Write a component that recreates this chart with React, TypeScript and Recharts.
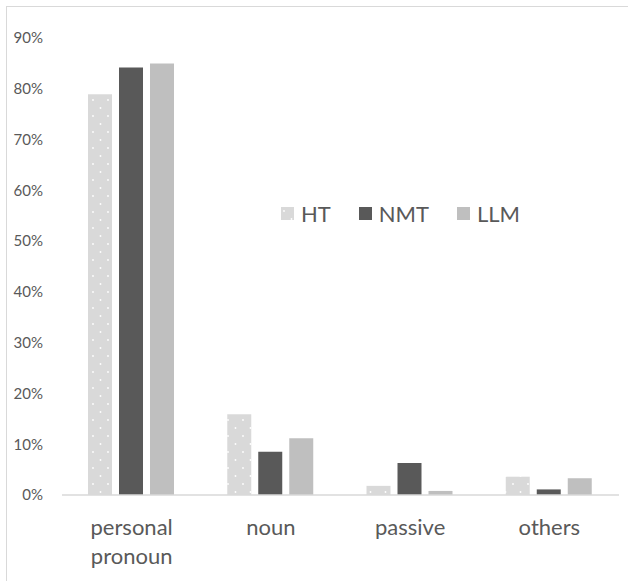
import React from 'react';
import { BarChart, Bar, XAxis, YAxis, Legend } from 'recharts';

const categories = ['personal pronoun', 'noun', 'passive', 'others'];
const htValues = [0.789, 0.159, 0.018, 0.036];
const nmtValues = [0.842, 0.085, 0.063, 0.011];
const llmValues = [0.85, 0.112, 0.008, 0.033];
const yTicks = [0, 0.1, 0.2, 0.3, 0.4, 0.5, 0.6, 0.7, 0.8, 0.9];

const series = [
  { key: 'HT', fill: 'url(#dots)', swatch: '#d9d9d9' },
  { key: 'NMT', fill: '#595959', swatch: '#595959' },
  { key: 'LLM', fill: '#bfbfbf', swatch: '#bfbfbf' },
];

const data = categories.map((name, i) => ({
  name,
  HT: htValues[i],
  NMT: nmtValues[i],
  LLM: llmValues[i],
}));

const FONT = 'Lato, "Noto Sans", sans-serif';
const TEXT = '#595959';

const CategoryTick = (props: any) => {
  const { x, y, payload } = props;
  const words = String(payload.value).split(' ');
  return (
    <g transform={`translate(${x},${y})`}>
      {words.map((w, i) => (
        <text
          key={i}
          x={0}
          y={32 + i * 29}
          textAnchor="middle"
          fill={TEXT}
          fontSize={22}
          fontFamily={FONT}
        >
          {w}
        </text>
      ))}
    </g>
  );
};

const renderLegend = () => (
  <div style={{ display: 'flex', alignItems: 'center', fontFamily: FONT, fontSize: 22, color: TEXT }}>
    {series.map((s) => (
      <div key={s.key} style={{ display: 'flex', alignItems: 'center', marginRight: 28 }}>
        <svg width={13} height={13} style={{ marginRight: 7 }}>
          <rect width={13} height={13} fill={s.key === 'HT' ? 'url(#dots)' : s.swatch} />
        </svg>
        <span>{s.key}</span>
      </div>
    ))}
  </div>
);

export default function App() {
  return (
    <div
      style={{
        position: 'absolute',
        left: 0,
        top: 0,
        width: 628,
        height: 581,
        background: '#fff',
        overflow: 'hidden',
      }}
    >
      <div
        style={{
          position: 'absolute',
          left: 6,
          top: 6,
          width: 700,
          height: 700,
          border: '1.5px solid #d9d9d9',
          boxSizing: 'border-box',
        }}
      />
      <BarChart
        width={628}
        height={581}
        data={data}
        margin={{ top: 38, right: 9, bottom: 56, left: 0 }}
        barCategoryGap={26}
        barGap={7}
      >
        <defs>
          <pattern id="dots" width={15} height={16} patternUnits="userSpaceOnUse">
            <rect width={15} height={16} fill="#d9d9d9" />
            <circle cx={3} cy={4} r={0.9} fill="#ffffff" />
            <circle cx={10.5} cy={12} r={0.9} fill="#ffffff" />
          </pattern>
        </defs>
        <XAxis
          dataKey="name"
          height={30}
          axisLine={{ stroke: '#d9d9d9', strokeWidth: 1.5 }}
          tickLine={false}
          tick={<CategoryTick />}
          interval={0}
        />
        <YAxis
          width={62}
          domain={[0, 0.9]}
          ticks={yTicks}
          axisLine={false}
          tickLine={false}
          tickSize={0}
          tickMargin={19}
          tickFormatter={(v: number) => `${Math.round(v * 100)}%`}
          tick={{ fill: TEXT, fontSize: 15, fontFamily: FONT }}
        />
        <Legend
          content={renderLegend}
          layout="horizontal"
          verticalAlign="middle"
          align="center"
          wrapperStyle={{ position: 'absolute', top: 200, left: 281, width: 'auto' }}
        />
        {series.map((s) => (
          <Bar key={s.key} dataKey={s.key} fill={s.fill} isAnimationActive={false} />
        ))}
      </BarChart>
    </div>
  );
}
